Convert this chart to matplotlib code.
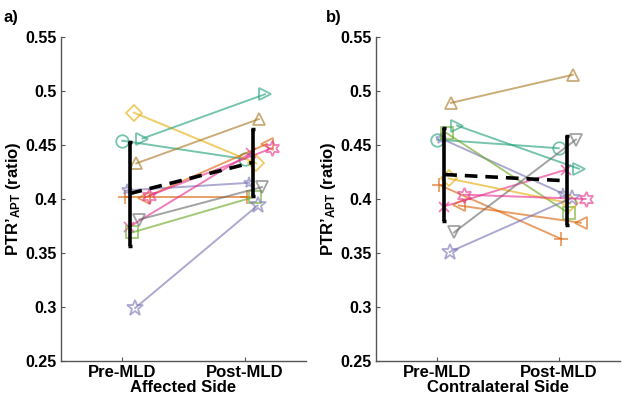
import numpy as np
import matplotlib
matplotlib.use("Agg")
import matplotlib.pyplot as plt

plt.rcParams['font.family'] = ['Liberation Sans', 'DejaVu Sans']
plt.rcParams['font.weight'] = 'bold'
plt.rcParams['mathtext.fontset'] = 'custom'
plt.rcParams['mathtext.rm'] = 'Liberation Sans:bold'
plt.rcParams['mathtext.default'] = 'rm'

conditions = ["Pre-MLD", "Post-MLD"]
yticks = [0.25, 0.3, 0.35, 0.4, 0.45, 0.5, 0.55]
ytick_labels = ["0.25", "0.3", "0.35", "0.4", "0.45", "0.5", "0.55"]

# 12 subjects
affected_pre = [0.454, 0.402, 0.408, 0.374, 0.369, 0.480, 0.433, 0.381, 0.456, 0.401, 0.299, 0.403]
affected_post = [0.437, 0.402, 0.415, 0.443, 0.402, 0.433, 0.474, 0.411, 0.497, 0.451, 0.394, 0.447]
contra_pre = [0.455, 0.413, 0.456, 0.393, 0.461, 0.419, 0.489, 0.369, 0.468, 0.394, 0.351, 0.404]
contra_post = [0.447, 0.363, 0.405, 0.427, 0.387, 0.396, 0.515, 0.455, 0.428, 0.378, 0.401, 0.400]

subject_jitter = [0.0, 0.02, 0.035, 0.055, 0.08, 0.095, 0.115, 0.14, 0.165, 0.18, 0.105, 0.22]
dark2 = ['#1b9e77', '#d95f02', '#7570b3', '#e7298a', '#66a61e', '#e6ab02', '#a6761d', '#666666']
markers = ['o', '+', '*', 'x', 's', 'D', '^', 'v', '>', '<', '*', (6, 1, 0)]
msizes = [9, 10, 8, 7, 8, 8, 9, 9, 9, 9, 12, 11]

fig = plt.figure(figsize=(6.25, 4.0), dpi=100)
axa = fig.add_axes([0.0976, 0.0975, 0.392, 0.81])
axb = fig.add_axes([0.6016, 0.0975, 0.390, 0.81])

def draw(ax, pre, post, xlabel):
    pre = np.array(pre); post = np.array(post)
    for i in range(len(pre)):
        c = dark2[i % 8]
        m = markers[i]
        xs = np.array([1, 2]) + subject_jitter[i]
        ax.plot(xs, [pre[i], post[i]], color=c, alpha=0.6, lw=1.4,
                marker=m, ms=msizes[i], mfc='none', mec=c, mew=1.3, zorder=2)
    means = [pre.mean(), post.mean()]
    sds = [pre.std(ddof=1), post.std(ddof=1)]
    ex = np.array([1.06, 2.065])
    ax.errorbar(ex, means, yerr=sds, fmt='none', ecolor='black', elinewidth=2.6,
                capsize=1.5, capthick=2.5, zorder=4)
    ax.plot(ex, means, color='black', lw=2.6, ls=(0, (3.5, 2.2)), zorder=5)
    ax.set_xlim(0.5, 2.5)
    ax.set_ylim(0.25, 0.55)
    ax.set_xticks([1, 2])
    ax.set_xticklabels(conditions, fontsize=12, fontweight='bold')
    ax.set_yticks(yticks)
    ax.set_yticklabels(ytick_labels, fontsize=11.5, fontweight='bold')
    ax.tick_params(direction='in', length=3, color='#555555', pad=3)
    for s in ['top', 'right']:
        ax.spines[s].set_visible(False)
    for s in ['left', 'bottom']:
        ax.spines[s].set_color('#555555')
        ax.spines[s].set_linewidth(1.0)
    ax.set_xlabel(xlabel, fontsize=12, fontweight='bold', labelpad=0)
    ax.set_ylabel("PTR’$_{APT}$ (ratio)", fontsize=12, fontweight='bold', labelpad=2)

draw(axa, affected_pre, affected_post, "Affected Side")
draw(axb, contra_pre, contra_post, "Contralateral Side")

fig.text(0.005, 0.975, "a)", fontsize=12, fontweight='bold', va='top', ha='left')
fig.text(0.522, 0.975, "b)", fontsize=12, fontweight='bold', va='top', ha='left')

fig.savefig("out.png", dpi=100)
